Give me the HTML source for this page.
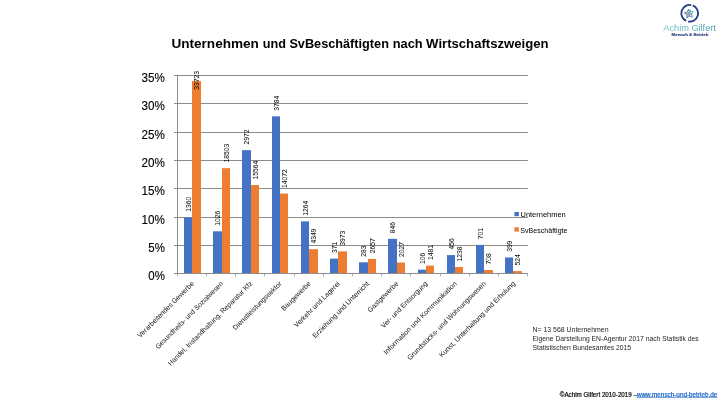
<!DOCTYPE html>
<html lang="de"><head><meta charset="utf-8"><title>Unternehmen und SvBeschäftigten nach Wirtschaftszweigen</title>
<style>html,body{margin:0;padding:0;background:#fff}body{width:720px;height:405px;overflow:hidden}svg{display:block}text{font-family:"Liberation Sans",sans-serif}</style></head><body>
<svg width="720" height="405" viewBox="0 0 720 405">
<rect width="720" height="405" fill="#fff"/>
<text x="171.4" y="47.8" font-size="13.6" font-weight="bold" fill="#000" textLength="87.5" lengthAdjust="spacingAndGlyphs">Unternehmen</text>
<text x="262.7" y="47.8" font-size="13.6" font-weight="bold" fill="#000" textLength="23.2" lengthAdjust="spacingAndGlyphs">und</text>
<text x="289.4" y="47.8" font-size="13.6" font-weight="bold" fill="#000" textLength="99.5" lengthAdjust="spacingAndGlyphs">SvBeschäftigten</text>
<text x="392.7" y="47.8" font-size="13.6" font-weight="bold" fill="#000" textLength="29.9" lengthAdjust="spacingAndGlyphs">nach</text>
<text x="426.1" y="47.8" font-size="13.6" font-weight="bold" fill="#000" textLength="122.5" lengthAdjust="spacingAndGlyphs">Wirtschaftszweigen</text>
<line x1="174.0" y1="273.50" x2="527.9" y2="273.50" stroke="#8c8c8c" stroke-width="1"/>
<text x="164.9" y="279.60" font-size="11.9" text-anchor="end" fill="#000" stroke="#000" stroke-width="0.12" textLength="16.6" lengthAdjust="spacingAndGlyphs">0%</text>
<line x1="174.0" y1="245.50" x2="527.9" y2="245.50" stroke="#8c8c8c" stroke-width="1"/>
<text x="164.9" y="251.60" font-size="11.9" text-anchor="end" fill="#000" stroke="#000" stroke-width="0.12" textLength="16.6" lengthAdjust="spacingAndGlyphs">5%</text>
<line x1="174.0" y1="217.50" x2="527.9" y2="217.50" stroke="#8c8c8c" stroke-width="1"/>
<text x="164.9" y="223.60" font-size="11.9" text-anchor="end" fill="#000" stroke="#000" stroke-width="0.12" textLength="23.3" lengthAdjust="spacingAndGlyphs">10%</text>
<line x1="174.0" y1="188.50" x2="527.9" y2="188.50" stroke="#8c8c8c" stroke-width="1"/>
<text x="164.9" y="194.60" font-size="11.9" text-anchor="end" fill="#000" stroke="#000" stroke-width="0.12" textLength="23.3" lengthAdjust="spacingAndGlyphs">15%</text>
<line x1="174.0" y1="160.50" x2="527.9" y2="160.50" stroke="#8c8c8c" stroke-width="1"/>
<text x="164.9" y="166.60" font-size="11.9" text-anchor="end" fill="#000" stroke="#000" stroke-width="0.12" textLength="23.3" lengthAdjust="spacingAndGlyphs">20%</text>
<line x1="174.0" y1="132.50" x2="527.9" y2="132.50" stroke="#8c8c8c" stroke-width="1"/>
<text x="164.9" y="138.60" font-size="11.9" text-anchor="end" fill="#000" stroke="#000" stroke-width="0.12" textLength="23.3" lengthAdjust="spacingAndGlyphs">25%</text>
<line x1="174.0" y1="103.50" x2="527.9" y2="103.50" stroke="#8c8c8c" stroke-width="1"/>
<text x="164.9" y="109.60" font-size="11.9" text-anchor="end" fill="#000" stroke="#000" stroke-width="0.12" textLength="23.3" lengthAdjust="spacingAndGlyphs">30%</text>
<line x1="174.0" y1="75.50" x2="527.9" y2="75.50" stroke="#8c8c8c" stroke-width="1"/>
<text x="164.9" y="81.60" font-size="11.9" text-anchor="end" fill="#000" stroke="#000" stroke-width="0.12" textLength="23.3" lengthAdjust="spacingAndGlyphs">35%</text>
<line x1="177.5" y1="75" x2="177.5" y2="274" stroke="#8c8c8c" stroke-width="1"/>
<line x1="177.50" y1="274" x2="177.50" y2="276.4" stroke="#8c8c8c" stroke-width="1" stroke-opacity="0.7"/>
<line x1="206.50" y1="274" x2="206.50" y2="276.4" stroke="#8c8c8c" stroke-width="1" stroke-opacity="0.7"/>
<line x1="235.50" y1="274" x2="235.50" y2="276.4" stroke="#8c8c8c" stroke-width="1" stroke-opacity="0.7"/>
<line x1="264.50" y1="274" x2="264.50" y2="276.4" stroke="#8c8c8c" stroke-width="1" stroke-opacity="0.7"/>
<line x1="294.50" y1="274" x2="294.50" y2="276.4" stroke="#8c8c8c" stroke-width="1" stroke-opacity="0.7"/>
<line x1="323.50" y1="274" x2="323.50" y2="276.4" stroke="#8c8c8c" stroke-width="1" stroke-opacity="0.7"/>
<line x1="352.50" y1="274" x2="352.50" y2="276.4" stroke="#8c8c8c" stroke-width="1" stroke-opacity="0.7"/>
<line x1="381.50" y1="274" x2="381.50" y2="276.4" stroke="#8c8c8c" stroke-width="1" stroke-opacity="0.7"/>
<line x1="410.50" y1="274" x2="410.50" y2="276.4" stroke="#8c8c8c" stroke-width="1" stroke-opacity="0.7"/>
<line x1="440.50" y1="274" x2="440.50" y2="276.4" stroke="#8c8c8c" stroke-width="1" stroke-opacity="0.7"/>
<line x1="469.50" y1="274" x2="469.50" y2="276.4" stroke="#8c8c8c" stroke-width="1" stroke-opacity="0.7"/>
<line x1="498.50" y1="274" x2="498.50" y2="276.4" stroke="#8c8c8c" stroke-width="1" stroke-opacity="0.7"/>
<line x1="527.50" y1="274" x2="527.50" y2="276.4" stroke="#8c8c8c" stroke-width="1" stroke-opacity="0.7"/>
<rect x="184" y="217.4" width="8" height="55.60" fill="#4472c4"/>
<rect x="192" y="81.04" width="9" height="191.96" fill="#ed7d31"/>
<rect x="213" y="231.32" width="9" height="41.68" fill="#4472c4"/>
<rect x="222" y="168.17" width="8" height="104.83" fill="#ed7d31"/>
<rect x="242" y="150.18" width="9" height="122.82" fill="#4472c4"/>
<rect x="251" y="185.0" width="8" height="88.00" fill="#ed7d31"/>
<rect x="272" y="116.33" width="8" height="156.67" fill="#4472c4"/>
<rect x="280" y="193.54" width="8" height="79.46" fill="#ed7d31"/>
<rect x="301" y="221.4" width="8" height="51.60" fill="#4472c4"/>
<rect x="309" y="249.2" width="9" height="23.80" fill="#ed7d31"/>
<rect x="330" y="258.63" width="8" height="14.37" fill="#4472c4"/>
<rect x="338" y="251.36" width="9" height="21.64" fill="#ed7d31"/>
<rect x="359" y="262.3" width="9" height="10.70" fill="#4472c4"/>
<rect x="368" y="258.89" width="8" height="14.11" fill="#ed7d31"/>
<rect x="388" y="238.83" width="9" height="34.17" fill="#4472c4"/>
<rect x="397" y="262.5" width="8" height="10.50" fill="#ed7d31"/>
<rect x="418" y="269.68" width="8" height="3.32" fill="#4472c4"/>
<rect x="426" y="265.62" width="8" height="7.38" fill="#ed7d31"/>
<rect x="447" y="255.09" width="8" height="17.91" fill="#4472c4"/>
<rect x="455" y="267.01" width="8" height="5.99" fill="#ed7d31"/>
<rect x="476" y="244.87" width="8" height="28.13" fill="#4472c4"/>
<rect x="484" y="270.05" width="9" height="2.95" fill="#ed7d31"/>
<rect x="505" y="257.46" width="8" height="15.54" fill="#4472c4"/>
<rect x="513" y="271.1" width="9" height="1.90" fill="#ed7d31"/>
<line x1="174.0" y1="273.5" x2="527.9" y2="273.5" stroke="#8c8c8c" stroke-width="1"/>
<text transform="translate(190.90,211.80) rotate(-90)" font-size="6.8" fill="#000" textLength="14.96" lengthAdjust="spacingAndGlyphs">1360</text>
<text transform="translate(199.40,89.70) rotate(-90)" font-size="6.8" fill="#000" textLength="18.70" lengthAdjust="spacingAndGlyphs">33723</text>
<text transform="translate(220.40,225.72) rotate(-90)" font-size="6.8" fill="#000" textLength="14.96" lengthAdjust="spacingAndGlyphs">1026</text>
<text transform="translate(228.90,162.57) rotate(-90)" font-size="6.8" fill="#000" textLength="18.70" lengthAdjust="spacingAndGlyphs">18503</text>
<text transform="translate(249.40,144.58) rotate(-90)" font-size="6.8" fill="#000" textLength="14.96" lengthAdjust="spacingAndGlyphs">2972</text>
<text transform="translate(257.90,179.40) rotate(-90)" font-size="6.8" fill="#000" textLength="18.70" lengthAdjust="spacingAndGlyphs">15564</text>
<text transform="translate(278.90,110.73) rotate(-90)" font-size="6.8" fill="#000" textLength="14.96" lengthAdjust="spacingAndGlyphs">3784</text>
<text transform="translate(286.90,187.94) rotate(-90)" font-size="6.8" fill="#000" textLength="18.70" lengthAdjust="spacingAndGlyphs">14072</text>
<text transform="translate(307.90,215.80) rotate(-90)" font-size="6.8" fill="#000" textLength="14.96" lengthAdjust="spacingAndGlyphs">1264</text>
<text transform="translate(316.40,243.60) rotate(-90)" font-size="6.8" fill="#000" textLength="14.96" lengthAdjust="spacingAndGlyphs">4349</text>
<text transform="translate(336.90,253.03) rotate(-90)" font-size="6.8" fill="#000" textLength="11.22" lengthAdjust="spacingAndGlyphs">371</text>
<text transform="translate(345.40,245.76) rotate(-90)" font-size="6.8" fill="#000" textLength="14.96" lengthAdjust="spacingAndGlyphs">3973</text>
<text transform="translate(366.40,256.70) rotate(-90)" font-size="6.8" fill="#000" textLength="11.22" lengthAdjust="spacingAndGlyphs">283</text>
<text transform="translate(374.90,253.29) rotate(-90)" font-size="6.8" fill="#000" textLength="14.96" lengthAdjust="spacingAndGlyphs">2657</text>
<text transform="translate(395.40,233.23) rotate(-90)" font-size="6.8" fill="#000" textLength="11.22" lengthAdjust="spacingAndGlyphs">846</text>
<text transform="translate(403.90,256.90) rotate(-90)" font-size="6.8" fill="#000" textLength="14.96" lengthAdjust="spacingAndGlyphs">2027</text>
<text transform="translate(424.90,264.08) rotate(-90)" font-size="6.8" fill="#000" textLength="11.22" lengthAdjust="spacingAndGlyphs">106</text>
<text transform="translate(432.90,260.02) rotate(-90)" font-size="6.8" fill="#000" textLength="14.96" lengthAdjust="spacingAndGlyphs">1481</text>
<text transform="translate(453.90,249.49) rotate(-90)" font-size="6.8" fill="#000" textLength="11.22" lengthAdjust="spacingAndGlyphs">456</text>
<text transform="translate(461.90,261.41) rotate(-90)" font-size="6.8" fill="#000" textLength="14.96" lengthAdjust="spacingAndGlyphs">1238</text>
<text transform="translate(482.90,239.27) rotate(-90)" font-size="6.8" fill="#000" textLength="11.22" lengthAdjust="spacingAndGlyphs">701</text>
<text transform="translate(491.40,264.45) rotate(-90)" font-size="6.8" fill="#000" textLength="11.22" lengthAdjust="spacingAndGlyphs">708</text>
<text transform="translate(511.90,251.86) rotate(-90)" font-size="6.8" fill="#000" textLength="11.22" lengthAdjust="spacingAndGlyphs">399</text>
<text transform="translate(520.40,265.50) rotate(-90)" font-size="6.8" fill="#000" textLength="11.22" lengthAdjust="spacingAndGlyphs">524</text>
<text transform="translate(194.40,284.10) rotate(-45)" font-size="7.0" text-anchor="end" fill="#111" textLength="76.5" lengthAdjust="spacingAndGlyphs">Verarbeitendes Gewerbe</text>
<text transform="translate(223.60,284.10) rotate(-45)" font-size="7.0" text-anchor="end" fill="#111" textLength="92.6" lengthAdjust="spacingAndGlyphs">Gesundheits- und Sozialwesen</text>
<text transform="translate(252.80,284.10) rotate(-45)" font-size="7.0" text-anchor="end" fill="#111" textLength="116.1" lengthAdjust="spacingAndGlyphs">Handel, Instandhaltung, Reparatur Kfz</text>
<text transform="translate(282.00,284.10) rotate(-45)" font-size="7.0" text-anchor="end" fill="#111" textLength="65.6" lengthAdjust="spacingAndGlyphs">Dienstleistungssektor</text>
<text transform="translate(311.20,284.10) rotate(-45)" font-size="7.0" text-anchor="end" fill="#111" textLength="38.3" lengthAdjust="spacingAndGlyphs">Baugewerbe</text>
<text transform="translate(340.40,284.10) rotate(-45)" font-size="7.0" text-anchor="end" fill="#111" textLength="61.6" lengthAdjust="spacingAndGlyphs">Verkehr und Lagerei</text>
<text transform="translate(369.60,284.10) rotate(-45)" font-size="7.0" text-anchor="end" fill="#111" textLength="76.8" lengthAdjust="spacingAndGlyphs">Erziehung und Unterricht</text>
<text transform="translate(398.80,284.10) rotate(-45)" font-size="7.0" text-anchor="end" fill="#111" textLength="40.4" lengthAdjust="spacingAndGlyphs">Gastgewerbe</text>
<text transform="translate(428.00,284.10) rotate(-45)" font-size="7.0" text-anchor="end" fill="#111" textLength="62.7" lengthAdjust="spacingAndGlyphs">Ver- und Entsorgung</text>
<text transform="translate(457.20,284.10) rotate(-45)" font-size="7.0" text-anchor="end" fill="#111" textLength="100.1" lengthAdjust="spacingAndGlyphs">Information und Kommunikation</text>
<text transform="translate(486.40,284.10) rotate(-45)" font-size="7.0" text-anchor="end" fill="#111" textLength="108.1" lengthAdjust="spacingAndGlyphs">Grundstücks- und Wohnungswesen</text>
<text transform="translate(515.60,284.10) rotate(-45)" font-size="7.0" text-anchor="end" fill="#111" textLength="104.1" lengthAdjust="spacingAndGlyphs">Kunst, Unterhaltung und Erholung</text>
<rect x="514.4" y="212" width="4.5" height="4.2" fill="#4472c4"/>
<rect x="514.4" y="227.3" width="4.5" height="4.3" fill="#ed7d31"/>
<text x="520.5" y="216.9" font-size="7.4" fill="#000" textLength="45.2" lengthAdjust="spacingAndGlyphs">Unternehmen</text>
<text x="520.3" y="232.8" font-size="7.4" fill="#000" textLength="47.2" lengthAdjust="spacingAndGlyphs">SvBeschäftigte</text>
<text x="532.5" y="331.6" font-size="6.9" fill="#262626" textLength="76.0" lengthAdjust="spacingAndGlyphs">N= 13 568 Unternehmen</text>
<text x="532.5" y="340.6" font-size="6.9" fill="#262626" textLength="166.2" lengthAdjust="spacingAndGlyphs">Eigene Darstellung EN-Agentur 2017 nach Statistik des</text>
<text x="532.5" y="349.7" font-size="6.9" fill="#262626" textLength="98.5" lengthAdjust="spacingAndGlyphs">Statistischen Bundesamtes 2015</text>
<text x="559.8" y="396.7" font-size="6.3" fill="#000" stroke="#000" stroke-width="0.18" textLength="77.2" lengthAdjust="spacingAndGlyphs">©Achim Gilfert 2010-2019 –</text>
<text x="636.9" y="396.6" font-size="6.3" fill="#0b5cc4" stroke="#0b5cc4" stroke-width="0.18" textLength="80.4" lengthAdjust="spacingAndGlyphs">www.mensch-und-betrieb.de</text>
<line x1="636.9" y1="397.4" x2="717.3" y2="397.4" stroke="#0b5cc4" stroke-width="0.6"/>
<defs><linearGradient id="lg" x1="0" y1="0" x2="1" y2="0"><stop offset="0" stop-color="#80c6c1"/><stop offset="1" stop-color="#4aa3ab"/></linearGradient><linearGradient id="sg" x1="0" y1="0" x2="1" y2="0"><stop offset="0" stop-color="#33478f"/><stop offset="0.55" stop-color="#3e64a3"/><stop offset="1" stop-color="#5fb5b3"/></linearGradient></defs>
<path d="M692.71 5.46A8.4 8.4 0 0 1 688.10 21.55" fill="none" stroke="#1f3f80" stroke-width="1.8"/>
<path d="M686.15 20.91A8.4 8.4 0 0 1 691.16 5.03" fill="none" stroke="#1f3f80" stroke-width="1.8"/>
<polygon points="688.45,9.15 690.18,11.77 693.32,11.74 691.37,14.20 692.36,17.18 689.42,16.08 686.89,17.95 687.03,14.81 684.47,12.98 687.50,12.15" fill="none" stroke="url(#sg)" stroke-width="0.85" stroke-linejoin="round"/>
<circle cx="689.00" cy="13.90" r="1.3" fill="none" stroke="#2a4088" stroke-width="0.8"/>
<path d="M688.30 9.70L689.50 12.10L690.90 9.40M691.30 12.90L692.10 16.50M687.10 16.90L688.20 15.50" fill="none" stroke="#52aeb0" stroke-width="0.8"/>
<text x="663.3" y="30.9" font-size="8.7" fill="url(#lg)" textLength="52.6" lengthAdjust="spacingAndGlyphs">Achim Gilfert</text>
<text x="671.6" y="35.5" font-size="3.4" font-weight="bold" fill="#2b3f86" stroke="#2b3f86" stroke-width="0.12" textLength="36.8" lengthAdjust="spacingAndGlyphs">Mensch &amp; Betrieb</text>
</svg></body></html>
